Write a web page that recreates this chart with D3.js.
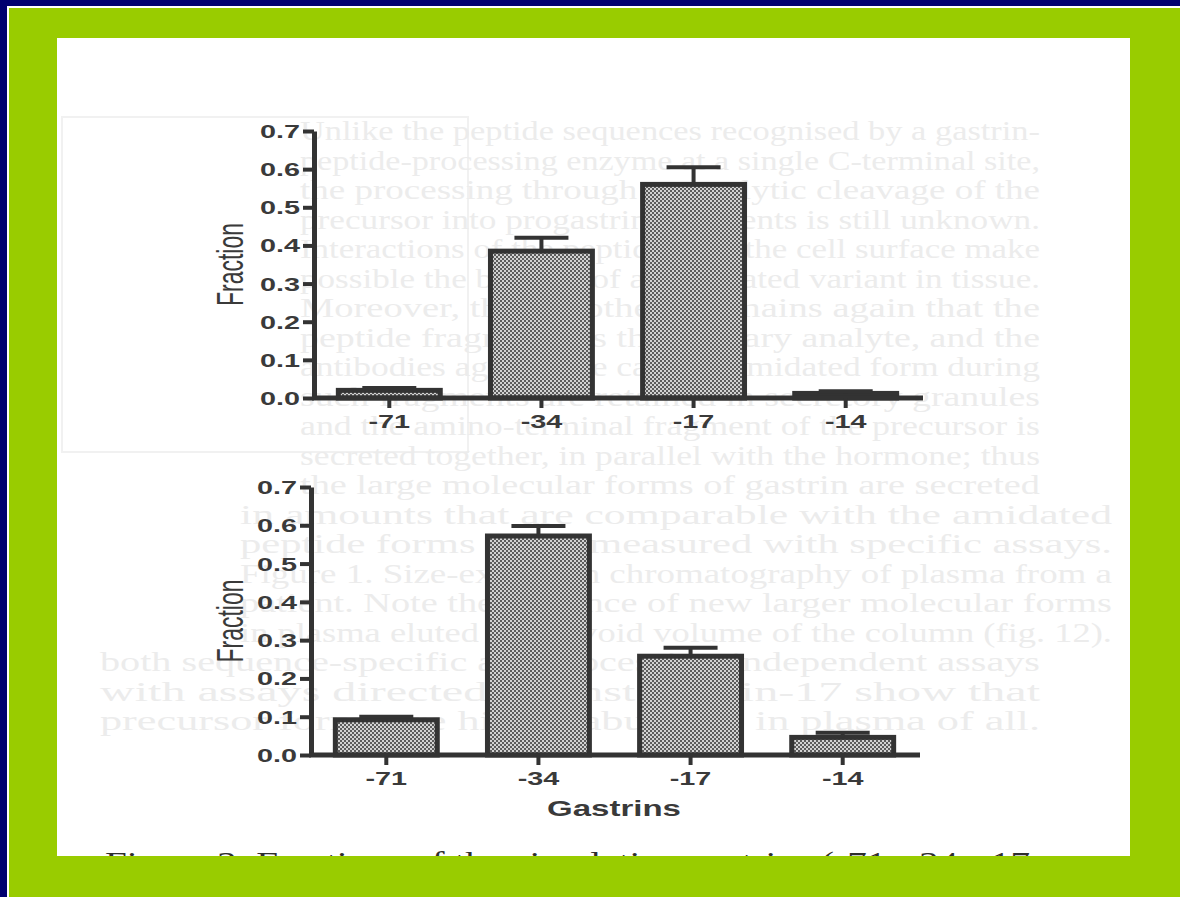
<!DOCTYPE html>
<html>
<head>
<meta charset="utf-8">
<script src="https://cdn.jsdelivr.net/npm/d3@7/dist/d3.min.js"></script>
<style>
  html, body { margin: 0; padding: 0; background: #99cc00; overflow: hidden; }
  svg { display: block; }
</style>
</head>
<body>
<svg id="fig" width="1180" height="897"></svg>
<script>
// Gastrin forms on the x axis
const categories = ["-71", "-34", "-17", "-14"];

// Upper panel: fraction of each circulating gastrin (mean and error)
const upperValues = [0.020, 0.385, 0.560, 0.012];
const upperErrors = [0.006, 0.035, 0.045, 0.006];

// Lower panel
const lowerValues = [0.092, 0.572, 0.258, 0.046];
const lowerErrors = [0.008, 0.026, 0.022, 0.012];

// Y axis ticks
const yTicks = [0.0, 0.1, 0.2, 0.3, 0.4, 0.5, 0.6, 0.7];

const yLabel = "Fraction";
const xLabel = "Gastrins";
const caption = "Figure 3.  Fractions of the circulating gastrins (-71, -34, -17";

// Faint lines of the printed page showing through behind the figure
const pageLines = [
  "Unlike the peptide sequences recognised by a gastrin-",
  "peptide-processing enzyme at a single C-terminal site,",
  "the processing through proteolytic cleavage of the",
  "precursor into progastrin fragments is still unknown.",
  "Interactions of the peptide with the cell surface make",
  "possible the binding of an amidated variant in tissue.",
  "Moreover, the hypothesis remains again that the",
  "peptide fragments is the primary analyte, and the",
  "antibodies against the carboxyamidated form during",
  "such fragments are retained in secretory granules",
  "and the amino-terminal fragment of the precursor is",
  "secreted together, in parallel with the hormone; thus",
  "the large molecular forms of gastrin are secreted",
  "in amounts that are comparable with the amidated",
  "peptide forms when measured with specific assays.",
  "Figure 1. Size-exclusion chromatography of plasma from a",
  "patient. Note the presence of new larger molecular forms",
  "in plasma eluted in the void volume of the column (fig. 12).",
  "both sequence-specific and processing-independent assays",
  "with assays directed against gastrin-17 show that",
  "precursor forms are highly abundant in plasma of all."
];

const W = 1180, H = 897;
const svg = d3.select("#fig");

// Frame: green field with a navy edge and thin white rule on top and left
svg.append("rect").attr("width", W).attr("height", H).attr("fill", "#99cc00");
svg.append("rect").attr("x", 0).attr("y", 0).attr("width", W).attr("height", 8).attr("fill", "#ffffff");
svg.append("rect").attr("x", 0).attr("y", 0).attr("width", 9).attr("height", H).attr("fill", "#ffffff");
svg.append("rect").attr("x", 0).attr("y", 0).attr("width", W).attr("height", 6).attr("fill", "#000070");
svg.append("rect").attr("x", 0).attr("y", 0).attr("width", 7).attr("height", H).attr("fill", "#000070");
const sheet = { x: 57, y: 38, w: 1073, h: 818 };
svg.append("rect").attr("x", sheet.x).attr("y", sheet.y)
  .attr("width", sheet.w).attr("height", sheet.h).attr("fill", "#ffffff");

const defs = svg.append("defs");
defs.append("clipPath").attr("id", "sheetClip")
  .append("rect").attr("x", sheet.x).attr("y", sheet.y)
  .attr("width", sheet.w).attr("height", sheet.h);

// Halftone fill for the bars
const pat = defs.append("pattern").attr("id", "halftone")
  .attr("patternUnits", "userSpaceOnUse").attr("width", 4).attr("height", 4);
pat.append("rect").attr("width", 4).attr("height", 4).attr("fill", "#d2d2d2");
pat.append("rect").attr("x", 0).attr("y", 0).attr("width", 2).attr("height", 2).attr("fill", "#5c5c5c");
pat.append("rect").attr("x", 2).attr("y", 2).attr("width", 2).attr("height", 2).attr("fill", "#5c5c5c");

// Background page text
const page = svg.append("g").attr("clip-path", "url(#sheetClip)");
page.append("rect").attr("x", 62).attr("y", 117).attr("width", 406).attr("height", 335)
  .attr("fill", "none").attr("stroke", "#f1f1f1").attr("stroke-width", 2);
pageLines.forEach((t, i) => {
  const y = 140 + i * 29.5;
  let x0 = 300, x1 = 1040;
  if (i >= 13 && i <= 17) { x0 = 240; x1 = 1112; }
  if (i >= 18) { x0 = 100; x1 = 1040; }
  page.append("text")
    .attr("x", x0).attr("y", y)
    .attr("textLength", x1 - x0).attr("lengthAdjust", "spacingAndGlyphs")
    .attr("font-family", "'Liberation Serif', 'DejaVu Serif', serif")
    .attr("font-size", 27).attr("fill", "#ececec")
    .text(t);
});

// Printed caption, cut by the lower edge of the sheet
page.append("text")
  .attr("x", 105).attr("y", 872)
  .attr("textLength", 925).attr("lengthAdjust", "spacingAndGlyphs")
  .attr("font-family", "'Liberation Serif', 'DejaVu Serif', serif")
  .attr("font-size", 30).attr("fill", "#2e2e2e")
  .text(caption);

const ink = "#333333";
const labelInk = "#3a3a3a";
const sx = 1.6; // horizontal stretch of the printed lettering

function drawPanel(values, errors, axisX, y0, y7, showXLabel) {
  const g = svg.append("g");
  const x = d3.scaleBand().domain(categories)
    .range([axisX, axisX + 607]).paddingInner(0.33).paddingOuter(0.16);
  const y = d3.scaleLinear().domain([0, 0.7]).range([y0, y7]);

  // Bars
  g.selectAll("rect.bar").data(categories).join("rect")
    .attr("class", "bar")
    .attr("x", d => x(d))
    .attr("width", x.bandwidth())
    .attr("y", (d, i) => y(values[i]))
    .attr("height", (d, i) => y0 - y(values[i]))
    .attr("fill", "url(#halftone)")
    .attr("stroke", ink).attr("stroke-width", 5);

  // Error bars (upper whisker with cap)
  categories.forEach((d, i) => {
    const cx = x(d) + x.bandwidth() / 2;
    const top = y(values[i] + errors[i]);
    g.append("line").attr("x1", cx).attr("x2", cx)
      .attr("y1", y(values[i])).attr("y2", top)
      .attr("stroke", ink).attr("stroke-width", 4);
    g.append("line").attr("x1", cx - 27).attr("x2", cx + 27)
      .attr("y1", top).attr("y2", top)
      .attr("stroke", ink).attr("stroke-width", 4);
  });

  // Y axis
  const ya = g.append("g").attr("transform", `translate(${axisX},0)`)
    .call(d3.axisLeft(y).tickValues(yTicks).tickFormat(d3.format(".1f"))
      .tickSize(11).tickSizeOuter(0));
  ya.select(".domain").attr("stroke", ink).attr("stroke-width", 5);
  ya.selectAll(".tick line").attr("stroke", ink).attr("stroke-width", 4);
  ya.selectAll(".tick text")
    .attr("x", -14 / sx).attr("dy", "0.36em")
    .attr("transform", `scale(${sx},1)`)
    .attr("font-family", "'Liberation Sans', Arial, sans-serif")
    .attr("font-weight", "bold").attr("font-size", 18).attr("fill", labelInk);

  // X axis
  const xa = g.append("g").attr("transform", `translate(0,${y0})`)
    .call(d3.axisBottom(x).tickSize(10).tickSizeOuter(0));
  xa.select(".domain").attr("stroke", ink).attr("stroke-width", 5)
    .attr("d", `M${axisX - 2},0H${axisX + 609}`);
  xa.selectAll(".tick line").attr("stroke", ink).attr("stroke-width", 4);
  xa.selectAll(".tick text")
    .attr("y", 30).attr("dy", 0)
    .attr("transform", `scale(${sx},1)`)
    .attr("font-family", "'Liberation Sans', Arial, sans-serif")
    .attr("font-weight", "bold").attr("font-size", 18).attr("fill", labelInk);

  // Y axis title
  g.append("text")
    .attr("transform", `translate(230,${(y0 + y7) / 2}) scale(${sx},1) rotate(-90)`)
    .attr("text-anchor", "middle").attr("dominant-baseline", "central")
    .attr("font-family", "'Liberation Sans', Arial, sans-serif")
    .attr("font-size", 23).attr("fill", labelInk)
    .text(yLabel);

  if (showXLabel) {
    g.append("text")
      .attr("transform", `translate(${axisX + 303},816) scale(1.5,1)`)
      .attr("text-anchor", "middle")
      .attr("font-family", "'Liberation Sans', Arial, sans-serif")
      .attr("font-weight", "bold").attr("font-size", 22).attr("fill", labelInk)
      .text(xLabel);
  }
}

drawPanel(upperValues, upperErrors, 314, 398, 131, false);
drawPanel(lowerValues, lowerErrors, 311, 755, 487, true);
</script>
</body>
</html>
